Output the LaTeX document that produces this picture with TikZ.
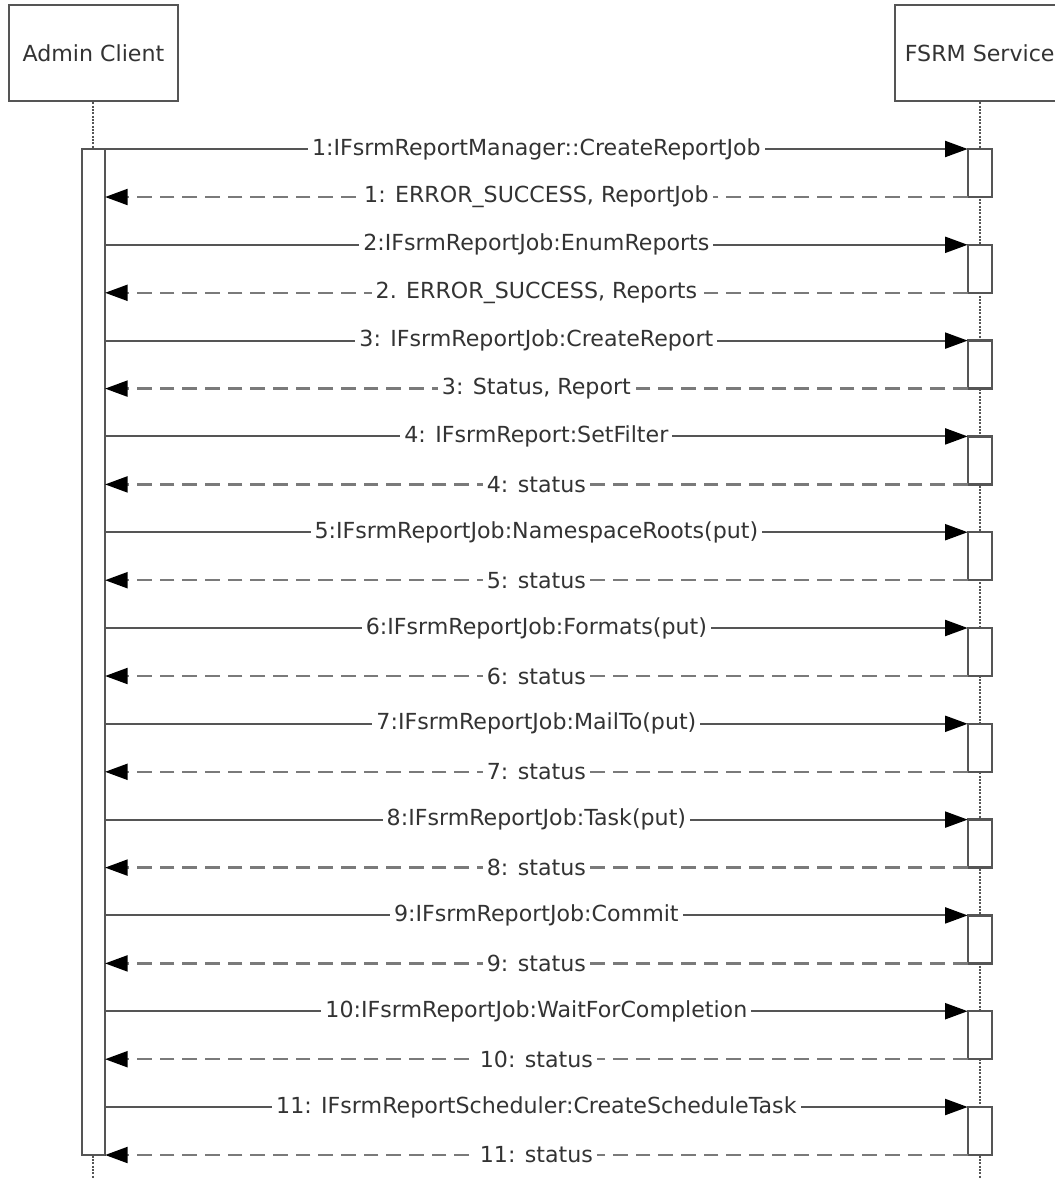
\documentclass[tikz,border=0pt]{standalone}
\usepackage{fontspec}
\setmainfont{DejaVu Sans}
\usetikzlibrary{arrows.meta, positioning}
\definecolor{C_LINE}{HTML}{555555}
\definecolor{C_DASH}{HTML}{7A7A7A}
\definecolor{C_TEXT}{HTML}{333333}
\tikzset{
  %% -- sequence diagram actors --
  SD/actor/.style={
    draw=C_LINE, line width=1.8pt, fill=white,
    minimum width=127pt, minimum height=72pt,
    text=C_TEXT, font=\fontsize{16.6}{19}\selectfont
  },
  %% -- activation bar --
  SD/act/.style={draw=C_LINE, line width=1.8pt, fill=white,
    inner sep=0pt, outer sep=0pt},
  %% -- lifeline --
  SD/life/.style={draw=C_LINE, line width=1.6pt,
    dash pattern=on 1.5pt off 1pt},
  %% -- call arrow --
  SD/fwd/.style={draw=C_LINE, line width=1.6pt,
    -{Triangle[length=17pt, width=12pt, black]}},
  %% -- reply arrow --
  SD/bck/.style={draw=C_DASH, line width=1.7pt,
    dash pattern=on 11pt off 6pt,
    -{Triangle[length=17pt, width=12pt, black]}},
  %% -- message label --
  SD/lbl/.style={fill=white, text=C_TEXT, inner xsep=3pt, inner ysep=1pt,
    font=\fontsize{16.6}{19}\selectfont},
}
\begin{document}
\begin{tikzpicture}[x=0.75pt, y=-0.75pt]
\useasboundingbox (0,0) rectangle (1054,1179);
\pgfmathsetmacro{\xA}{93.4}   %% Admin Client
\pgfmathsetmacro{\xF}{979.7}  %% FSRM Service
\coordinate (bottom) at (0,1179);

%% Actor boxes
\node[SD/actor] (admin) at (\xA,53) {Admin Client};
\node[SD/actor] (fsrm)  at (\xF,53) {FSRM Service};

%% Lifelines
\draw[SD/life] (admin.south) -- (admin.south |- bottom);
\draw[SD/life] (fsrm.south) -- (fsrm.south |- bottom);

%% Admin Client activation
\node[SD/act, minimum width=17.5pt, minimum height=754.5pt, anchor=north]
  (actA) at (\xA,149) {};

%% Messages: call, then reply
\foreach \i/\call/\reply [evaluate=\i as \y using 149+95.8*(\i-1)] in {
  1/{1:IFsrmReportManager::CreateReportJob}/{1: ERROR\_SUCCESS, ReportJob},
  2/{2:IFsrmReportJob:EnumReports}/{2. ERROR\_SUCCESS, Reports},
  3/{3: IFsrmReportJob:CreateReport}/{3: Status, Report},
  4/{4: IFsrmReport:SetFilter}/{4: status},
  5/{5:IFsrmReportJob:NamespaceRoots(put)}/{5: status},
  6/{6:IFsrmReportJob:Formats(put)}/{6: status},
  7/{7:IFsrmReportJob:MailTo(put)}/{7: status},
  8/{8:IFsrmReportJob:Task(put)}/{8: status},
  9/{9:IFsrmReportJob:Commit}/{9: status},
  10/{10:IFsrmReportJob:WaitForCompletion}/{10: status},
  11/{11: IFsrmReportScheduler:CreateScheduleTask}/{11: status}}{
  \node[SD/act, minimum width=18pt, minimum height=36pt, anchor=north]
    (act\i) at (\xF,\y) {};
  \draw[SD/fwd] (actA.east |- act\i.north) -- node[SD/lbl] {\call}
    (act\i.north west);
  \draw[SD/bck] (act\i.south west) -- node[SD/lbl] {\reply}
    (actA.east |- act\i.south);
}

\end{tikzpicture}
\end{document}
